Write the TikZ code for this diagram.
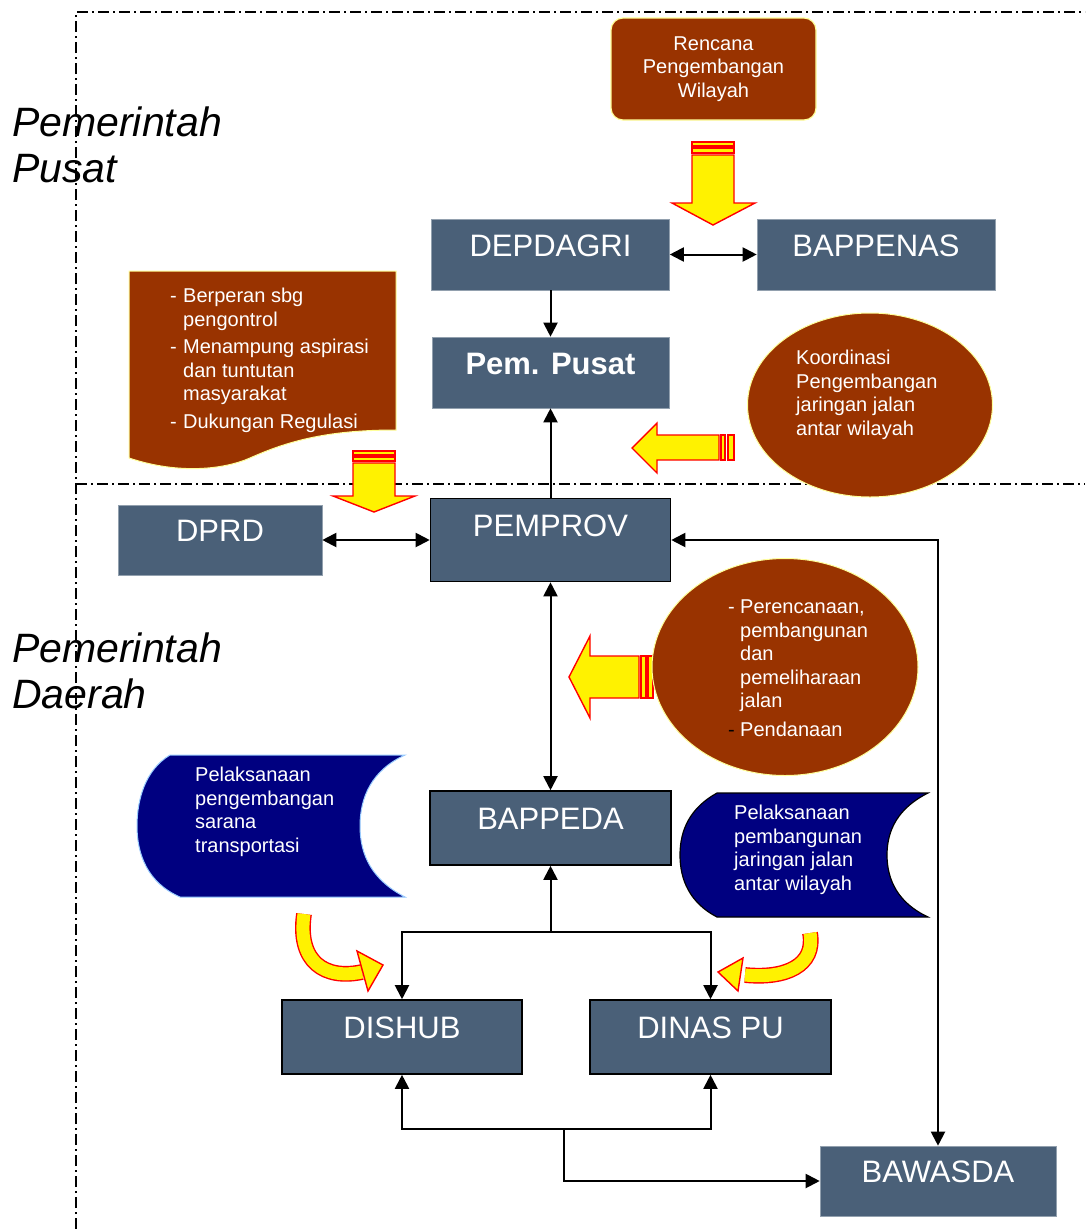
\documentclass[tikz,border=0pt]{standalone}
\usepackage{fontspec}
\setmainfont{Liberation Sans}
\usetikzlibrary{arrows.meta,shapes.geometric}

\begin{document}
\begin{tikzpicture}[x=1pt,y=-1pt,>={Triangle[length=14pt,width=14pt]},
  unit/.style={fill=unitblue,draw=unitblue!60!white,line width=0.6pt,text=white,
    font=\fontsize{31}{36}\selectfont,text height=22pt,text depth=19pt,inner sep=0pt},
  framed/.style={draw=black,line width=1.6pt},
  link/.style={line width=2pt},
  note/.style={text=white,font=\fontsize{20}{23.5}\selectfont,align=left,inner sep=0pt},
  region/.style={font=\fontsize{41}{46}\selectfont\itshape,align=left,inner sep=0pt},
  border/.style={line width=1.6pt,dash pattern=on 11pt off 4pt on 2pt off 4pt},
  fat/.style={fill=yellow,draw=red,line width=1.4pt,line join=miter},
  bent/.style={draw=red,line width=1.4pt,double=yellow,double distance=13pt},
  bubble/.style={ellipse,fill=rust,draw=paleyellow,line width=1pt,inner sep=0pt}]
\definecolor{unitblue}{RGB}{74,96,120}
\definecolor{rust}{RGB}{153,51,0}
\definecolor{paleyellow}{RGB}{255,255,153}
\definecolor{deepnavy}{RGB}{0,0,128}
\definecolor{paleblue}{RGB}{153,204,255}

\useasboundingbox (0,0) rectangle (1085,1229);

% Dash-dot frame: central (top) and regional (bottom) level.
\draw[border] (76,1229) -- (76,12) -- (1085,12);
\draw[border] (76,484) -- (1085,484);

\node[region,anchor=north west] (pusatlbl) at (12,107) {Pemerintah\\Pusat};
\node[region,anchor=north west] (daerahlbl) at (12,633) {Pemerintah\\Daerah};

% Brown notes.
\node[fill=rust,draw=paleyellow,line width=1.2pt,rounded corners=12pt,
  minimum width=205pt,minimum height=102pt,text=white,align=center,
  font=\fontsize{20}{23.5}\selectfont] (rencana) at (713.5,69)
  {Rencana\\Pengembangan\\Wilayah};

\draw[fill=rust,draw=paleyellow,line width=1pt]
  (129,271) -- (396,271) -- (396,430)
  .. controls (330,430) and (290,440) .. (250,458)
  .. controls (225,469) and (180,475) .. (129,458) -- cycle;
\node[note,anchor=north west] (perandprd) at (170,288)
  {\makebox[13pt][l]{-}Berperan sbg\\\hspace*{13pt}pengontrol\\[4pt]
   \makebox[13pt][l]{-}Menampung aspirasi\\\hspace*{13pt}dan tuntutan\\\hspace*{13pt}masyarakat\\[4pt]
   \makebox[13pt][l]{-}Dukungan Regulasi};

\node[bubble,minimum width=245pt,minimum height=184pt] (koord) at (870,405) {};
\node[note,anchor=north west] (koordtxt) at (796,350)
  {Koordinasi\\Pengembangan\\jaringan jalan\\antar wilayah};

% Yellow block arrows.
\draw[fat] (692,142) rectangle (734,146);
\draw[fat] (692,148) rectangle (734,153);
\draw[fat] (692,155) -- (734,155) -- (734,203) -- (755,203) -- (713,225)
  -- (672,203) -- (692,203) -- cycle;

\draw[fat] (353,451) rectangle (395,455);
\draw[fat] (353,457) rectangle (395,461);
\draw[fat] (353,463) -- (395,463) -- (395,496) -- (415,496) -- (374,512)
  -- (333,496) -- (353,496) -- cycle;

\draw[fat] (721,435) rectangle (725,460);
\draw[fat] (728,435) rectangle (734,460);
\draw[fat] (632,448) -- (657,423) -- (657,435) -- (719,435) -- (719,460)
  -- (657,460) -- (657,473) -- cycle;

\draw[fat] (641,656) rectangle (646,698);
\draw[fat] (648,656) rectangle (653,698);
\draw[fat] (569,677) -- (590,636) -- (590,656) -- (639,656) -- (639,698)
  -- (590,698) -- (590,718) -- cycle;

\node[bubble,minimum width=266pt,minimum height=217pt] (tugas) at (785,667) {};
\node[note,anchor=north west] (tugastxt) at (728,600)
  {\makebox[12pt][l]{-}Perencanaan,\\\hspace*{12pt}pembangunan\\\hspace*{12pt}dan\\
   \hspace*{12pt}pemeliharaan\\\hspace*{12pt}jalan\\[5pt]
   \makebox[12pt][l]{\textcolor{black}{-}}Pendanaan};

% Navy stored-data shapes.
\draw[fill=deepnavy,draw=paleblue,line width=1pt]
  (405,755) -- (170,755) .. controls (145,770) and (137,800) .. (137,826)
  .. controls (137,855) and (148,883) .. (180,897) -- (405,897)
  .. controls (372,880) and (360,855) .. (360,826)
  .. controls (360,797) and (372,770) .. (405,755) -- cycle;
\node[note,anchor=north west] (saranatxt) at (195,767)
  {Pelaksanaan\\pengembangan\\sarana\\transportasi};

\draw[fill=deepnavy,draw=black,line width=1.2pt]
  (928,793) -- (717,793) .. controls (690,808) and (680,830) .. (680,855)
  .. controls (680,880) and (690,903) .. (717,917) -- (928,917)
  .. controls (898,903) and (887,880) .. (887,855)
  .. controls (887,830) and (898,808) .. (928,793) -- cycle;
\node[note,anchor=north west] (jalantxt) at (734,805)
  {Pelaksanaan\\pembangunan\\jaringan jalan\\antar wilayah};

% Units.
\node[unit,minimum width=238pt,minimum height=71pt] (depdagri) at (550.5,254.5) {DEPDAGRI};
\node[unit,minimum width=238pt,minimum height=71pt] (bappenas) at (876,254.5) {BAPPENAS};
\node[unit,minimum width=237pt,minimum height=71pt,font=\fontsize{31}{36}\selectfont\bfseries]
  (pempusat) at (550.5,372.5) {Pem. Pusat};
\node[unit,minimum width=204pt,minimum height=70pt] (dprd) at (220,540) {DPRD};
\node[unit,framed,minimum width=240pt,minimum height=83pt,text depth=30pt]
  (pemprov) at (550.5,540) {PEMPROV};
\node[unit,framed,minimum width=241pt,minimum height=74pt] (bappeda) at (550.5,828) {BAPPEDA};
\node[unit,framed,minimum width=240pt,minimum height=74pt] (dishub) at (402,1037) {DISHUB};
\node[unit,framed,minimum width=241pt,minimum height=74pt] (dinaspu) at (710.5,1037) {DINAS PU};
\node[unit,minimum width=236pt,minimum height=70pt] (bawasda) at (938,1181) {BAWASDA};

% Connectors.
\draw[link,<->] (depdagri) -- (bappenas);
\draw[link,->] (depdagri) -- (pempusat);
\draw[link,->] (pemprov) -- (pempusat);
\draw[link,<->] (dprd) -- (pemprov);
\draw[link,<->] (pemprov) -| (bawasda);
\draw[link,<->] (pemprov) -- (bappeda);

\coordinate (split) at (550.5,932);
\draw[link,->] (split) -- (bappeda);
\draw[link,->] (split) -| (dishub);
\draw[link,->] (split) -| (dinaspu);

\coordinate (merge) at (564,1129);
\draw[link,->] (merge) -| (dishub);
\draw[link,->] (merge) -| (dinaspu);
\draw[link,->] (merge) |- (bawasda);

% Curved yellow arrows towards the two dinas.
\draw[bent] (304,914) .. controls (297,962) and (325,980) .. (362,972);
\draw[fat] (357,951) -- (383,965) -- (368,991) -- cycle;
\draw[bent] (810,933) .. controls (816,966) and (785,979) .. (745,975);
\draw[fat] (743,958) -- (718,972) -- (738,991) -- cycle;

\end{tikzpicture}
\end{document}
